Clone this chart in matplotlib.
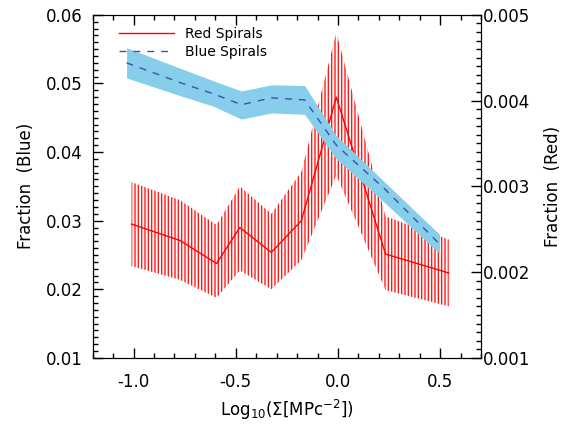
import numpy as np
import matplotlib.pyplot as plt
from matplotlib.lines import Line2D
from matplotlib.ticker import MultipleLocator, FormatStrFormatter

plt.rcParams['font.family'] = ['DejaVu Sans']
plt.rcParams['hatch.linewidth'] = 1.0

# blue spirals (left axis)
x_blue = [-1.034, -0.770, -0.611, -0.472, -0.326, -0.163, -0.008, 0.233, 0.497]
frac_blue = [0.0530, 0.0501, 0.0485, 0.0469, 0.0479, 0.0476, 0.0410, 0.0345, 0.0266]
blue_hi = [0.0552, 0.0522, 0.0504, 0.0489, 0.0498, 0.0497, 0.0424, 0.0355, 0.0280]
blue_lo = [0.0508, 0.0482, 0.0467, 0.0448, 0.0457, 0.0455, 0.0390, 0.0325, 0.0252]

# red spirals (right axis)
x_red = [-1.010, -0.774, -0.594, -0.480, -0.326, -0.179, -0.008, 0.233, 0.542]
frac_red = [0.00256, 0.00237, 0.00210, 0.00252, 0.00223, 0.00260, 0.00404, 0.00221, 0.00199]
red_hi = [0.00305, 0.00284, 0.00255, 0.00300, 0.00268, 0.00317, 0.00479, 0.00265, 0.00238]
red_lo = [0.00207, 0.00191, 0.00170, 0.00202, 0.00180, 0.00214, 0.00313, 0.00179, 0.00160]

fig = plt.figure(figsize=(5.72, 4.24), dpi=100)
ax1 = fig.add_axes([0.162, 0.156, 0.679, 0.809])
ax2 = ax1.twinx()

# blue band
ax1.fill_between(x_blue, blue_lo, blue_hi, color='#87ceeb', linewidth=0, zorder=1)

# red error bars drawn as dense vertical strokes
ax2.fill_between(x_red, red_lo, red_hi, facecolor='none', edgecolor='#ff1a1a',
                 hatch='|||||', linewidth=0, zorder=2)
ax2.plot(x_red, frac_red, color='red', linewidth=1.0, zorder=4)

ax1.set_zorder(ax2.get_zorder() + 1)
ax1.patch.set_visible(False)
ax1.plot(x_blue, frac_blue, color='#3f4fa8', linewidth=1.0, dashes=(5, 5), zorder=3)

ax1.set_xlim(-1.2, 0.7)
ax1.set_ylim(0.01, 0.06)
ax2.set_ylim(0.001, 0.005)

ax1.xaxis.set_major_locator(MultipleLocator(0.5))
ax1.xaxis.set_minor_locator(MultipleLocator(0.1))
ax1.xaxis.set_major_formatter(FormatStrFormatter('%.1f'))
ax1.yaxis.set_major_locator(MultipleLocator(0.01))
ax1.yaxis.set_minor_locator(MultipleLocator(0.001))
ax1.yaxis.set_major_formatter(FormatStrFormatter('%.2f'))
ax2.yaxis.set_major_locator(MultipleLocator(0.001))
ax2.yaxis.set_minor_locator(MultipleLocator(0.0001))
ax2.yaxis.set_major_formatter(FormatStrFormatter('%.3f'))

ax1.tick_params(axis='both', which='both', direction='in', labelsize=12)
ax1.tick_params(axis='x', which='both', top=True, pad=11)
ax1.tick_params(axis='y', which='both', right=False, pad=7)
ax1.tick_params(which='major', length=7, width=1)
ax1.tick_params(which='minor', length=3.5, width=1)
ax2.tick_params(axis='y', which='both', direction='in', labelsize=12, pad=1)
ax2.tick_params(which='major', length=7, width=1)
ax2.tick_params(which='minor', length=3.5, width=1)

ax1.set_xlabel('Log$_{10}$($\\Sigma$[MPc$^{-2}$])', fontsize=12, labelpad=5)
ax1.set_ylabel('Fraction  (Blue)', fontsize=12, labelpad=8)
ax2.set_ylabel('Fraction  (Red)', fontsize=12, labelpad=10)

handles = [Line2D([], [], color='red', linewidth=1.0),
           Line2D([], [], color='#3f4fa8', linewidth=1.0, dashes=(5, 5))]
ax1.legend(handles, ['Red Spirals', 'Blue Spirals'], loc='upper left',
           bbox_to_anchor=(0.035, 1.0), frameon=False, fontsize=10,
           handlelength=4.0, handletextpad=0.8, labelspacing=0.25)

fig.savefig('out.png', dpi=100)
